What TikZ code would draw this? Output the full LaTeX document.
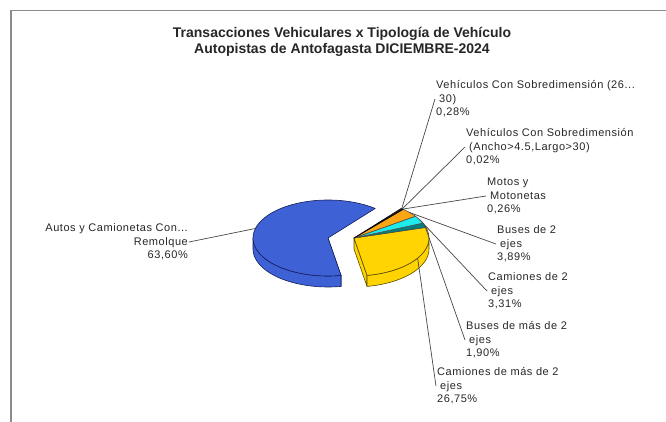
\documentclass[tikz,border=0pt]{standalone}
\usepackage{fontspec}
\setmainfont{Liberation Sans}
\newfontfamily\labelfont[LetterSpace=5]{Liberation Sans}

\definecolor{pieblue}{RGB}{62,98,214}
\definecolor{pieblueline}{RGB}{20,30,90}
\definecolor{pieyellow}{RGB}{255,212,0}
\definecolor{pieyellowline}{RGB}{90,75,0}
\definecolor{pieorange}{RGB}{250,165,20}
\definecolor{piecyan}{RGB}{30,235,235}
\definecolor{pieteal}{RGB}{0,128,128}
\definecolor{framegray}{RGB}{140,140,140}
\definecolor{leadgray}{RGB}{70,70,70}

% one slice of the flat 3d pie: top face, outer side, cut face
\newcommand{\pietop}[3]{\filldraw[#1] (0,0) -- (#2:75 and 38) arc[start angle=#2, end angle=#3, x radius=75, y radius=38] -- cycle;}
\newcommand{\pieside}[3]{\filldraw[#1] (#2:75 and 38) arc[start angle=#2, end angle=#3, x radius=75, y radius=38] -- ++(0,-11) arc[start angle=#3, end angle=#2, x radius=75, y radius=38] -- cycle;}
\newcommand{\piecut}[2]{\filldraw[#1] (0,0) -- (#2:75 and 38) -- ++(0,-11) -- (0,-11) -- cycle;}

\begin{document}
\begin{tikzpicture}[x=1pt, y=-1pt, font=\labelfont\fontsize{11}{13.5}\selectfont,
	lbl/.style={inner sep=1pt, align=left, anchor=west, text=black!85},
	leader/.style={draw=leadgray, line width=0.7pt},
	bluepie/.style={fill=pieblue, draw=pieblueline, line width=0.6pt, line join=round},
	yellowpie/.style={fill=pieyellow, draw=pieyellowline, line width=0.6pt, line join=round},
	orangepie/.style={fill=pieorange, draw=black!70, line width=0.6pt, line join=round},
	cyanpie/.style={fill=piecyan, draw=black!70, line width=0.6pt, line join=round},
	tealpie/.style={fill=pieteal, draw=black!70, line width=0.6pt, line join=round},
	darkpie/.style={fill=black!85, draw=black, line width=0.6pt, line join=round}]
	\useasboundingbox (0,0) rectangle (666,422);
	\draw[framegray, line width=1.5pt] (11,422) -- (11,10.5) -- (666,10.5);

	\node[font=\bfseries\fontsize{14}{16.5}\selectfont, align=center, text=black!85] (title) at (342,42) {Transacciones Vehiculares x Tipología de Vehículo\\Autopistas de Antofagasta DICIEMBRE-2024};

	% autos y camionetas, pulled out to the left
	\begin{scope}[shift={(328,238)}, y=1pt]
		\piecut{bluepie}{280}
		\pieside{bluepie}{180}{280}
		\pietop{bluepie}{51}{280}
		\coordinate (autos-p) at (165.5:75 and 38);
	\end{scope}

	% the other slices
	\begin{scope}[shift={(354,238)}, y=1pt]
		\piecut{yellowpie}{-80}
		\pieside{yellowpie}{-80}{0}
		\pietop{yellowpie}{-80}{16.3}
		\pietop{tealpie}{16.3}{23.1}
		\pietop{cyanpie}{23.1}{35}
		\pietop{orangepie}{35}{49}
		\pietop{darkpie}{49}{51}
		\coordinate (sob1-p) at (50.5:75 and 38);
		\coordinate (sob2-p) at (49.95:75 and 38);
		\coordinate (motos-p) at (49.5:75 and 38);
		\coordinate (bus2-p) at (42:75 and 38);
		\coordinate (cam2-p) at (29:75 and 38);
		\coordinate (busm-p) at (19.7:75 and 38);
		\coordinate (camm-p) at (-32:75 and 38);
	\end{scope}

	\node[lbl] (sob1) at (435,99) {Vehículos Con Sobredimensión (26...\\\hspace*{3pt}30)\\0,28\%};
	\node[lbl] (sob2) at (465,147) {Vehículos Con Sobredimensión\\\hspace*{3pt}(Ancho>4.5,Largo>30)\\0,02\%};
	\node[lbl] (motos) at (486,196) {Motos y\\\hspace*{3pt}Motonetas\\0,26\%};
	\node[lbl] (bus2) at (496,244) {Buses de 2\\\hspace*{3pt}ejes\\3,89\%};
	\node[lbl] (cam2) at (487,291) {Camiones de 2\\\hspace*{3pt}ejes\\3,31\%};
	\node[lbl] (busm) at (465,340) {Buses de más de 2\\\hspace*{3pt}ejes\\1,90\%};
	\node[lbl] (camm) at (436,386) {Camiones de más de 2\\\hspace*{3pt}ejes\\26,75\%};
	\node[lbl, align=right, anchor=east] (autos) at (189,242) {Autos y Camionetas Con...\\Remolque\\63,60\%};

	\draw[leader] (sob1.west) -- (sob1-p);
	\draw[leader] (sob2.west) -- (sob2-p);
	\draw[leader] (motos.west) -- (motos-p);
	\draw[leader] (bus2.west) -- (bus2-p);
	\draw[leader] (cam2.west) -- (cam2-p);
	\draw[leader] (busm.west) -- (busm-p);
	\draw[leader] (camm.west) -- (camm-p);
	\draw[leader] (autos.east) -- (autos-p);
\end{tikzpicture}
\end{document}
